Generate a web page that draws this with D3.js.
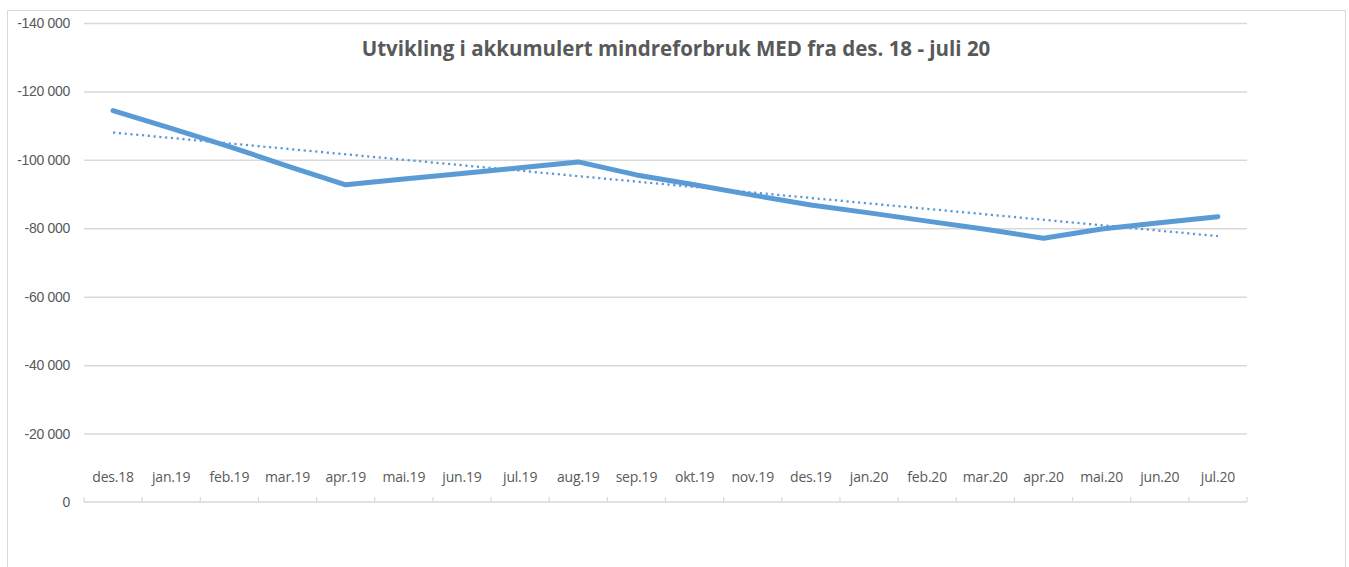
<!DOCTYPE html>
<html>
<head>
<meta charset="utf-8">
<script src="https://cdn.jsdelivr.net/npm/d3@7"></script>
<style>
  body { margin: 0; background: #fff; }
  svg { display: block; font-family: 'Open Sans', sans-serif; }
  .tick text { fill: #595959; }
</style>
</head>
<body>
<div id="chart"></div>
<script>
// months on the x axis
var months = ['des.18', 'jan.19', 'feb.19', 'mar.19', 'apr.19', 'mai.19', 'jun.19', 'jul.19',
              'aug.19', 'sep.19', 'okt.19', 'nov.19', 'des.19', 'jan.20', 'feb.20', 'mar.20',
              'apr.20', 'mai.20', 'jun.20', 'jul.20'];
// accumulated under-spend
var values = [-114400, -109200, -103900, -98200, -92700, -94400, -96000, -97700,
              -99400, -95600, -92700, -89700, -86800, -84500, -82100, -79700,
              -77100, -79800, -81600, -83400];
// dotted linear trend, first and last month
var trendMonths = ['des.18', 'jul.20'];
var trendValues = [-108000, -77700];
var yTicks = [0, -20000, -40000, -60000, -80000, -100000, -120000, -140000];
var title = 'Utvikling i akkumulert mindreforbruk MED fra des. 18 - juli 20';

var fullWidth = 1349, fullHeight = 567;
var margin = {top: 23, left: 84, right: 102, bottom: 65};
var width = fullWidth - margin.left - margin.right;
var height = fullHeight - margin.top - margin.bottom;

var nb = d3.formatLocale({decimal: ',', thousands: '\u00a0', grouping: [3], currency: ['', ''], minus: '-'});
var fmt = nb.format(',d');

var svg = d3.select('#chart').append('svg')
  .attr('width', fullWidth)
  .attr('height', fullHeight);

// chart area border
svg.append('rect')
  .attr('x', 7.5).attr('y', 10.5)
  .attr('width', 1338).attr('height', 600)
  .attr('fill', '#fff')
  .attr('stroke', '#d9d9d9');

svg.append('text')
  .attr('x', 676).attr('y', 56)
  .attr('text-anchor', 'middle')
  .style('font-size', '20.5px')
  .style('font-weight', 'bold')
  .attr('fill', '#595959')
  .text(title);

var g = svg.append('g')
  .attr('transform', 'translate(' + margin.left + ',' + margin.top + ')');

var x = d3.scaleBand().domain(months).range([0, width]).padding(0);
var y = d3.scaleLinear().domain([0, -140000]).range([height, 0]);

// y axis labels + gridlines
var yAxis = d3.axisLeft(y).tickValues(yTicks).tickFormat(fmt).tickSize(-width).tickPadding(14);
var ya = g.append('g').call(yAxis);
ya.select('.domain').remove();
ya.selectAll('.tick line').attr('stroke', '#d9d9d9').attr('stroke-width', 1.5);
ya.selectAll('.tick text').style('font-size', '14px').attr('letter-spacing', '-0.3px');
ya.selectAll('.tick').filter(function(d) { return d === 0; }).select('line').remove();

// category axis along 0, ticks at band edges pointing up
var xa = g.append('g').attr('transform', 'translate(0,' + y(0) + ')');
xa.append('line')
  .attr('x1', 0).attr('x2', width)
  .attr('stroke', '#d9d9d9').attr('stroke-width', 1.5);
xa.selectAll('line.tk')
  .data(months.concat(['end']))
  .enter().append('line')
  .attr('class', 'tk')
  .attr('x1', function(d, i) { return i < months.length ? x(d) : width; })
  .attr('x2', function(d, i) { return i < months.length ? x(d) : width; })
  .attr('y1', 0).attr('y2', -5)
  .attr('stroke', '#d9d9d9').attr('stroke-width', 1.2);
xa.selectAll('text')
  .data(months)
  .enter().append('text')
  .attr('x', function(d) { return x(d) + x.bandwidth() / 2; })
  .attr('y', -20)
  .attr('text-anchor', 'middle')
  .attr('fill', '#595959')
  .style('font-size', '14px')
  .attr('letter-spacing', '-0.2px')
  .text(function(d) { return d; });

var cx = function(m) { return x(m) + x.bandwidth() / 2; };

// trend line
var trend = trendMonths.map(function(m, i) { return {m: m, v: trendValues[i]}; });
g.append('path')
  .datum(trend)
  .attr('fill', 'none')
  .attr('stroke', '#5b9bd5')
  .attr('stroke-width', 2.3)
  .attr('stroke-dasharray', '2.2 3.6')
  .attr('d', d3.line().x(function(d) { return cx(d.m); }).y(function(d) { return y(d.v); }));

// main series
g.append('path')
  .datum(values)
  .attr('fill', 'none')
  .attr('stroke', '#5b9bd5')
  .attr('stroke-width', 5)
  .attr('stroke-linecap', 'round')
  .attr('stroke-linejoin', 'round')
  .attr('d', d3.line().x(function(d, i) { return cx(months[i]); }).y(function(d) { return y(d); }));
</script>
</body>
</html>
